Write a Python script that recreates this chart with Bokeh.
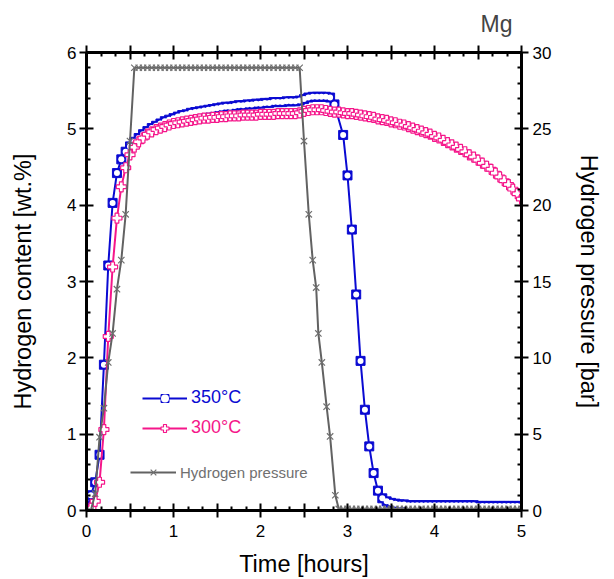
from bokeh.plotting import figure
from bokeh.models import (Range1d, LinearAxis, FixedTicker, CustomJSTickFormatter,
                          Legend, LegendItem)
from bokeh.embed import file_html
from bokeh.resources import INLINE

# ---------------- data ----------------
t350 = [0.00, 0.05, 0.10, 0.15, 0.20, 0.25, 0.30, 0.35, 0.40, 0.45,
        0.50, 0.55, 0.60, 0.65, 0.70, 0.75, 0.80, 0.85, 0.90, 0.95,
        1.00, 1.05, 1.10, 1.15, 1.20, 1.25, 1.30, 1.35, 1.40, 1.45,
        1.50, 1.55, 1.60, 1.65, 1.70, 1.75, 1.80, 1.85, 1.90, 1.95,
        2.00, 2.05, 2.10, 2.15, 2.20, 2.25, 2.30, 2.35, 2.40, 2.45,
        2.50, 2.55, 2.60, 2.65, 2.70, 2.75, 2.80, 2.85, 2.95,
        3.00, 3.05, 3.10, 3.15, 3.20, 3.25, 3.30, 3.35, 3.40, 3.45,
        3.50, 3.55, 3.60, 3.65, 3.70, 3.75, 3.80, 3.85, 3.90, 3.95,
        4.00, 4.05, 4.10, 4.15, 4.20, 4.25, 4.30, 4.35, 4.40, 4.45,
        4.50, 4.55, 4.60, 4.65, 4.70, 4.75, 4.80, 4.85, 4.90, 4.95, 5.00]
w350 = [0.00, 0.20, 0.37, 0.73, 1.91, 3.21, 4.03, 4.42, 4.60, 4.70,
        4.77, 4.83, 4.88, 4.93, 4.97, 5.01, 5.04, 5.07, 5.10, 5.12,
        5.14, 5.16, 5.18, 5.19, 5.21, 5.22, 5.23, 5.24, 5.25, 5.26,
        5.27, 5.28, 5.29, 5.29, 5.30, 5.31, 5.31, 5.32, 5.32, 5.33,
        5.33, 5.34, 5.34, 5.35, 5.35, 5.35, 5.36, 5.36, 5.36, 5.37,
        5.39, 5.41, 5.42, 5.42, 5.42, 5.42, 5.41, 5.32, 4.92,
        4.39, 3.68, 2.83, 1.96, 1.32, 0.84, 0.49, 0.26, 0.16, 0.12,
        0.10, 0.09, 0.08, 0.08, 0.07, 0.07, 0.07, 0.07, 0.07, 0.07,
        0.07, 0.07, 0.07, 0.07, 0.07, 0.07, 0.07, 0.07, 0.07, 0.07,
        0.06, 0.06, 0.06, 0.06, 0.06, 0.06, 0.06, 0.06, 0.06, 0.06, 0.06]

t300 = [0.00, 0.05, 0.10, 0.15, 0.20, 0.25, 0.30, 0.35, 0.40, 0.45,
        0.50, 0.55, 0.60, 0.65, 0.70, 0.75, 0.80, 0.85, 0.90, 0.95,
        1.00, 1.05, 1.10, 1.15, 1.20, 1.25, 1.30, 1.35, 1.40, 1.45,
        1.50, 1.55, 1.60, 1.65, 1.70, 1.75, 1.80, 1.85, 1.90, 1.95,
        2.00, 2.05, 2.10, 2.15, 2.20, 2.25, 2.30, 2.35, 2.40, 2.45,
        2.50, 2.55, 2.60, 2.65, 2.70, 2.75, 2.80, 2.85, 2.90, 2.95,
        3.00, 3.05, 3.10, 3.15, 3.20, 3.25, 3.30, 3.35, 3.40, 3.45,
        3.50, 3.55, 3.60, 3.65, 3.70, 3.75, 3.80, 3.85, 3.90, 3.95,
        4.00, 4.05, 4.10, 4.15, 4.20, 4.25, 4.30, 4.35, 4.40, 4.45,
        4.50, 4.55, 4.60, 4.65, 4.70, 4.75, 4.80, 4.85, 4.90, 4.95, 5.00]
w300 = [0.00, 0.03, 0.12, 0.37, 1.06, 2.28, 3.19, 3.83, 4.24, 4.49,
        4.66, 4.76, 4.83, 4.88, 4.93, 4.96, 4.99, 5.01, 5.03, 5.05,
        5.07, 5.08, 5.09, 5.10, 5.11, 5.12, 5.13, 5.14, 5.14, 5.15,
        5.15, 5.16, 5.16, 5.17, 5.17, 5.17, 5.18, 5.18, 5.18, 5.18,
        5.19, 5.19, 5.19, 5.19, 5.20, 5.20, 5.20, 5.20, 5.20, 5.21,
        5.23, 5.24, 5.25, 5.25, 5.25, 5.24, 5.23, 5.22, 5.22, 5.21,
        5.20, 5.20, 5.19, 5.18, 5.17, 5.16, 5.15, 5.13, 5.12, 5.11,
        5.09, 5.08, 5.06, 5.05, 5.03, 5.01, 4.99, 4.97, 4.95, 4.93,
        4.90, 4.88, 4.85, 4.82, 4.79, 4.76, 4.73, 4.70, 4.66, 4.63,
        4.59, 4.55, 4.51, 4.47, 4.42, 4.37, 4.32, 4.27, 4.21, 4.15,
        4.08]

tp = [0.05, 0.10, 0.15, 0.20, 0.25, 0.30, 0.35, 0.40, 0.45, 0.50,
      0.55, 0.60, 0.65, 0.70, 0.75, 0.80, 0.85, 0.90, 0.95,
      1.00, 1.05, 1.10, 1.15, 1.20, 1.25, 1.30, 1.35, 1.40, 1.45,
      1.50, 1.55, 1.60, 1.65, 1.70, 1.75, 1.80, 1.85, 1.90, 1.95,
      2.00, 2.05, 2.10, 2.15, 2.20, 2.25, 2.30, 2.35, 2.40, 2.45,
      2.50, 2.555, 2.60, 2.64, 2.665, 2.705, 2.76, 2.80, 2.86, 2.90,
      2.95, 3.00, 3.05, 3.10, 3.15, 3.20, 3.25, 3.30, 3.35, 3.40, 3.45,
      3.50, 3.55, 3.60, 3.65, 3.70, 3.75, 3.80, 3.85, 3.90, 3.95,
      4.00, 4.05, 4.10, 4.15, 4.20, 4.25, 4.30, 4.35, 4.40, 4.45,
      4.50, 4.55, 4.60, 4.65, 4.70, 4.75, 4.80, 4.85, 4.90, 4.95, 5.00]
pres = [0.0, 1.1, 4.8, 6.7, 9.7, 11.6, 14.5, 16.4, 19.4, 24.2,
        29.0, 29.0, 29.0, 29.0, 29.0, 29.0, 29.0, 29.0, 29.0,
        29.0, 29.0, 29.0, 29.0, 29.0, 29.0, 29.0, 29.0, 29.0, 29.0,
        29.0, 29.0, 29.0, 29.0, 29.0, 29.0, 29.0, 29.0, 29.0, 29.0,
        29.0, 29.0, 29.0, 29.0, 29.0, 29.0, 29.0, 29.0, 29.0, 29.0,
        24.2, 19.4, 16.4, 14.6, 11.6, 9.7, 6.8, 4.85, 1.0, 0.1,
        0.1, 0.1, 0.1, 0.1, 0.1, 0.1, 0.1, 0.1, 0.1, 0.1, 0.1,
        0.1, 0.1, 0.1, 0.1, 0.1, 0.1, 0.1, 0.1, 0.1, 0.1,
        0.1, 0.1, 0.1, 0.1, 0.1, 0.1, 0.1, 0.1, 0.1, 0.1,
        0.1, 0.1, 0.1, 0.1, 0.1, 0.1, 0.1, 0.1, 0.1, 0.1, 0.1]

x_major = [0, 0.5, 1, 1.5, 2, 2.5, 3, 3.5, 4, 4.5, 5]
y_major = [0, 1, 2, 3, 4, 5, 6]
p_major = [0, 5, 10, 15, 20, 25, 30]

labels = ["350°C", "300°C", "Hydrogen pressure"]
title_text = "Mg"

# ---------------- style ----------------
FONT = "Liberation Sans"
BLUE = "#0a0ad2"
PINK = "#f5168a"
GRAY = "#626262"

x_minor = [i / 6 for i in range(31) if i % 3 != 0]
y_minor = [i / 5 for i in range(31) if i % 5 != 0]
p_minor = [i for i in range(31) if i % 5 != 0]

p = figure(frame_width=435, frame_height=458,
           x_range=Range1d(0, 5), y_range=Range1d(0, 6),
           output_backend="svg", toolbar_location=None,
           min_border_left=86, min_border_right=85,
           min_border_top=52, min_border_bottom=69)
p.extra_y_ranges = {"p": Range1d(0, 30)}
p.xgrid.visible = False
p.ygrid.visible = False
p.outline_line_color = "black"
p.outline_line_width = 3
p.background_fill_color = "white"
p.border_fill_color = "white"

p.title.text = title_text
p.title.align = "right"
p.title.vertical_align = "top"
p.title.text_font = FONT
p.title.text_font_size = "23px"
p.title.text_font_style = "normal"
p.title.offset = 9
p.title.standoff = 14


def style(ax, ticks, minor, lab_size="17px"):
    ax.ticker = FixedTicker(ticks=ticks, minor_ticks=minor)
    ax.axis_line_width = 3
    ax.major_tick_line_width = 2
    ax.minor_tick_line_width = 2
    ax.major_tick_in = 7
    ax.major_tick_out = 7
    ax.minor_tick_in = 4
    ax.minor_tick_out = 0
    ax.major_label_text_font = FONT
    ax.major_label_text_font_size = lab_size
    ax.major_label_text_color = "black"
    ax.axis_label_text_font = FONT
    ax.axis_label_text_font_size = "23.5px"
    ax.axis_label_text_font_style = "normal"
    ax.axis_label_text_color = "black"


int_fmt = CustomJSTickFormatter(
    code="return Number.isInteger(tick) ? tick.toFixed(0) : '';")

xax = p.xaxis[0]
style(xax, x_major, x_minor)
xax.formatter = int_fmt
xax.axis_label = "Time [hours]"
xax.major_label_standoff = 7
xax.axis_label_standoff = 11

yax = p.yaxis[0]
style(yax, y_major, y_minor)
yax.axis_label = "Hydrogen content [wt.%]"
yax.major_label_standoff = 3
yax.axis_label_standoff = 28

rax = LinearAxis(y_range_name="p")
style(rax, p_major, p_minor)
rax.axis_label = "Hydrogen pressure [bar]"
rax.major_label_standoff = 4
rax.axis_label_standoff = 22
p.add_layout(rax, "right")

tax = LinearAxis(formatter=CustomJSTickFormatter(code="return '';"))
style(tax, x_major, x_minor, lab_size="0px")
tax.major_label_standoff = 0
p.add_layout(tax, "above")

# ---------------- glyphs ----------------
l350 = p.line(t350, w350, line_color=BLUE, line_width=2)
s350 = p.scatter(t350, w350, marker="square", size=9, fill_color=BLUE,
                 line_color=BLUE, line_width=1)
c350 = p.scatter(t350, w350, marker="circle", size=6, fill_color="white",
                 line_color=None)

l300 = p.line(t300, w300, line_color=PINK, line_width=2)
s300 = p.scatter(t300, w300, marker="plus", size=10, fill_color="white",
                 line_color=PINK, line_width=1.2)

lp = p.line(tp, pres, line_color=GRAY, line_width=2, y_range_name="p")
sp = p.scatter(tp, pres, marker="x", size=9, line_color="#707070",
               line_width=1.2, y_range_name="p")


def mk_legend(item, loc, color, size, gw):
    lg = Legend(items=[item], location=loc, padding=0, margin=0,
                border_line_alpha=0, background_fill_alpha=0,
                glyph_width=gw, glyph_height=20, label_height=20,
                label_standoff=4, spacing=0)
    lg.label_text_font = FONT
    lg.label_text_font_size = size
    lg.label_text_color = color
    p.add_layout(lg)


mk_legend(LegendItem(label=labels[0], renderers=[l350, s350, c350]),
          (56, 102), BLUE, "18px", 45)
mk_legend(LegendItem(label=labels[1], renderers=[l300, s300]),
          (56, 72), PINK, "18px", 45)
mk_legend(LegendItem(label=labels[2], renderers=[lp, sp]),
          (44, 28), "#707070", "15px", 46)

open("out.html", "w").write(file_html(p, INLINE))
